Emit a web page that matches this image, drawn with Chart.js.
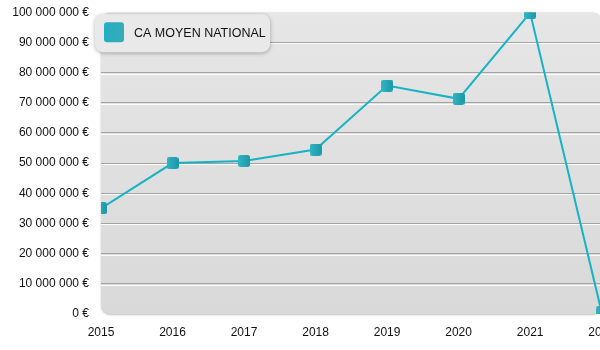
<!DOCTYPE html>
<html lang="fr">
<head>
<meta charset="utf-8">
<title>CA moyen national</title>
<script src="https://cdn.jsdelivr.net/npm/chart.js@4/dist/chart.umd.min.js"></script>
<style>
    body { margin: 0; background: #fff; }
    .chart-wrap { width: 600px; height: 350px; overflow: hidden; }
    #caChart { display: block; margin-top: -7px; }
</style>
</head>
<body>
<div class="chart-wrap">
    <canvas id="caChart" width="626" height="359"></canvas>
</div>
<script>
// Chiffre d'affaires moyen national par année
const years = ['2015', '2016', '2017', '2018', '2019', '2020', '2021', '2022'];
const caMoyen = [35000000, 50000000, 50700000, 54500000, 75700000, 71300000, 99800000, 600000];
const seriesLabel = 'CA MOYEN NATIONAL';
const yMin = 0;
const yMax = 100000000;
const yStep = 10000000;

function formatEuro(value) {
    const s = Math.round(value).toString().replace(/\B(?=(\d{3})+(?!\d))/g, ' ');
    return s + ' €';
}

// petit carré arrondi en dégradé pour les points
function makePointImage(size) {
    const c = document.createElement('canvas');
    c.width = size;
    c.height = size;
    const g = c.getContext('2d');
    const grad = g.createLinearGradient(0, 0, size, 0);
    grad.addColorStop(0, '#2fb6c4');
    grad.addColorStop(1, '#1f97a8');
    g.fillStyle = grad;
    g.beginPath();
    g.roundRect(0, 0, size, size, 2.5);
    g.fill();
    return c;
}

document.addEventListener('DOMContentLoaded', function() {
    const pointImg = makePointImage(12);

    // fond gris arrondi de la zone de tracé
    const plotBackground = {
        id: 'plotBackground',
        beforeDraw(chart) {
            const { ctx, chartArea: a } = chart;
            ctx.save();
            const grad = ctx.createLinearGradient(0, a.top, 0, a.bottom);
            grad.addColorStop(0, '#e6e6e6');
            grad.addColorStop(1, '#d9d9d9');
            ctx.shadowColor = 'rgba(0, 0, 0, 0.25)';
            ctx.shadowBlur = 2;
            ctx.shadowOffsetY = 1;
            ctx.fillStyle = grad;
            ctx.beginPath();
            ctx.roundRect(a.left, a.top, a.right - a.left, a.bottom - a.top, 9);
            ctx.fill();
            ctx.restore();
        },
        beforeDatasetsDraw(chart) {
            // liseré blanc sous chaque ligne de grille
            const { ctx, chartArea: a } = chart;
            const y = chart.scales.y;
            ctx.save();
            ctx.strokeStyle = 'rgba(255, 255, 255, 0.9)';
            ctx.lineWidth = 1;
            y.ticks.forEach(t => {
                if (t.value <= yMin || t.value >= yMax) return;
                const py = Math.round(y.getPixelForValue(t.value)) + 1.5;
                ctx.beginPath();
                ctx.moveTo(a.left, py);
                ctx.lineTo(a.right, py);
                ctx.stroke();
            });
            ctx.restore();
        }
    };

    // légende dans un cartouche arrondi, au coin haut gauche
    const boxLegend = {
        id: 'boxLegend',
        afterDraw(chart) {
            const ctx = chart.ctx;
            const x = chart.chartArea.left - 6;
            const y = chart.chartArea.top + 2;
            ctx.save();
            ctx.shadowColor = 'rgba(0, 0, 0, 0.3)';
            ctx.shadowBlur = 4;
            ctx.shadowOffsetY = 1;
            ctx.fillStyle = '#e9e9e9';
            ctx.beginPath();
            ctx.roundRect(x, y, 175, 38, 8);
            ctx.fill();
            ctx.restore();

            ctx.save();
            const grad = ctx.createLinearGradient(x + 9, 0, x + 29, 0);
            grad.addColorStop(0, '#1fb0c0');
            grad.addColorStop(1, '#3aabb8');
            ctx.fillStyle = grad;
            ctx.beginPath();
            ctx.roundRect(x + 9, y + 8, 20, 20, 3);
            ctx.fill();
            ctx.fillStyle = '#111';
            ctx.font = '12.5px "Liberation Sans", Arial, sans-serif';
            ctx.textBaseline = 'middle';
            ctx.fillText(chart.data.datasets[0].label, x + 39, y + 19);
            ctx.restore();
        }
    };

    const ctx = document.getElementById('caChart').getContext('2d');
    new Chart(ctx, {
        type: 'line',
        data: {
            labels: years,
            datasets: [{
                label: seriesLabel,
                data: caMoyen,
                borderColor: '#17b3c5',
                borderWidth: 2,
                tension: 0,
                fill: false,
                clip: 0,
                pointStyle: pointImg,
                pointRadius: 6,
                pointHoverRadius: 6
            }]
        },
        options: {
            responsive: false,
            animation: false,
            events: [],
            layout: { padding: { top: 5, right: 0, left: 0, bottom: 0 } },
            plugins: {
                legend: { display: false },
                tooltip: { enabled: false }
            },
            scales: {
                x: {
                    grid: { display: false, drawTicks: false },
                    border: { display: false },
                    ticks: {
                        color: '#111',
                        padding: 11,
                        maxRotation: 0,
                        autoSkip: false,
                        font: { family: '"Liberation Sans", Arial, sans-serif', size: 12 }
                    },
                    afterFit(scale) { scale.height = 38; }
                },
                y: {
                    min: yMin,
                    max: yMax,
                    grid: {
                        drawTicks: false,
                        lineWidth: 1,
                        color: c => (c.tick && (c.tick.value <= yMin || c.tick.value >= yMax)) ? 'rgba(0,0,0,0)' : '#a3a3a3'
                    },
                    border: { display: false },
                    ticks: {
                        stepSize: yStep,
                        color: '#111',
                        padding: 12,
                        font: { family: '"Liberation Sans", Arial, sans-serif', size: 12 },
                        callback: v => formatEuro(v)
                    },
                    afterFit(scale) { scale.width = 101; }
                }
            }
        },
        plugins: [plotBackground, boxLegend]
    });
});
</script>
</body>
</html>
